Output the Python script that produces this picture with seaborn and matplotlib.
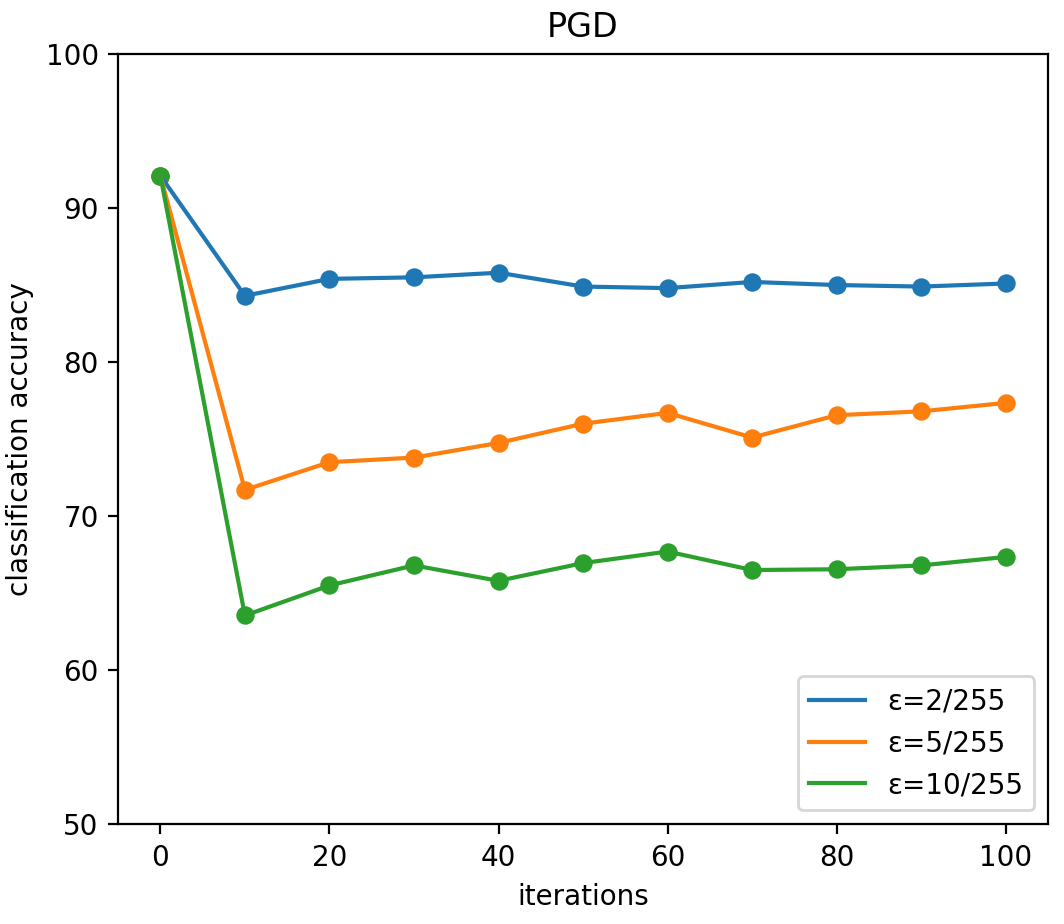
import matplotlib
matplotlib.use("Agg")
import matplotlib.pyplot as plt
import pandas as pd
import seaborn as sns

iterations = [0, 10, 20, 30, 40, 50, 60, 70, 80, 90, 100]
acc_eps2 = [92.1, 84.3, 85.4, 85.5, 85.8, 84.9, 84.8, 85.2, 85.0, 84.9, 85.1]
acc_eps5 = [92.1, 71.7, 73.5, 73.8, 74.75, 76.0, 76.7, 75.1, 76.55, 76.8, 77.35]
acc_eps10 = [92.1, 63.55, 65.5, 66.8, 65.8, 66.95, 67.7, 66.5, 66.55, 66.8, 67.35]
labels = ["ε=2/255", "ε=5/255", "ε=10/255"]
colors = ["#1f77b4", "#ff7f0e", "#2ca02c"]

fig, ax = plt.subplots(figsize=(5.32, 4.62), dpi=200)
fig.subplots_adjust(left=0.111, right=0.985, top=0.9416, bottom=0.108)

for label, values, color in zip(labels, [acc_eps2, acc_eps5, acc_eps10], colors):
    df = pd.DataFrame({"iterations": iterations, "acc": values})
    sns.lineplot(data=df, x="iterations", y="acc", color=color, label=label, ax=ax)
    sns.scatterplot(data=df, x="iterations", y="acc", color=color, s=44,
                    linewidth=0, legend=False, ax=ax)

ax.set_ylim(50, 100)
ax.set_title("PGD")
ax.set_xlabel("iterations")
ax.set_ylabel("classification accuracy")
ax.legend(loc="lower right")

fig.savefig("out.png", dpi=200)
